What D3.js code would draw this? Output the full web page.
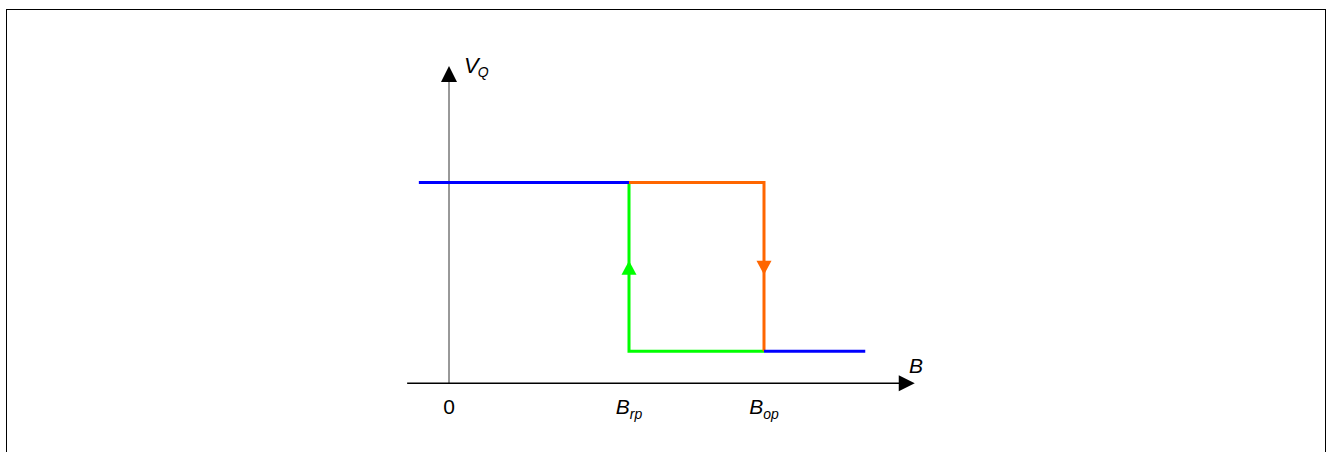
<!DOCTYPE html>
<html>
<head>
<meta charset="utf-8">
<script src="https://cdn.jsdelivr.net/npm/d3@7"></script>
<style>
  body { margin: 0; background: #fff; }
  svg { display: block; }
  text { font-family: "Liberation Sans", Arial, sans-serif; }
</style>
</head>
<body>
<div id="chart"></div>
<script>
// switching thresholds on the B axis
var tickValues = [0, 4, 7];
var tickMain = ["0", "B", "B"];
var tickSub = ["", "rp", "op"];

// output levels
var vLevels = [0.8, 5];

// traces [B, V]
var blueHigh = [[-0.67, 5], [4, 5]];
var blueLow = [[7, 0.8], [9.25, 0.8]];
var orangePath = [[4, 5], [7, 5], [7, 0.8]];
var greenPath = [[7, 0.8], [4, 0.8], [4, 5]];

// axis extents
var xAxisRange = [-0.93, 10.35];
var yAxisTop = 7.9;

var width = 1330, height = 452;

var svg = d3.select('#chart')
            .append('svg')
            .attr('width', width)
            .attr('height', height);

// frame
svg.append('rect')
   .attr('x', 6.5).attr('y', 9.5)
   .attr('width', 1319).attr('height', 460)
   .attr('fill', 'none')
   .attr('stroke', '#000')
   .attr('stroke-width', 1);

var xScale = d3.scaleLinear().domain([0, 7]).range([449, 764]);
var yScale = d3.scaleLinear().domain([0, 5]).range([383.3, 182.5]);

var line = d3.line()
             .x(function(d){ return xScale(d[0]) })
             .y(function(d){ return yScale(d[1]) });

// y axis
var x0 = xScale(0);
var yTip = yScale(yAxisTop);
svg.append('line')
   .attr('x1', x0).attr('x2', x0)
   .attr('y1', yScale(0)).attr('y2', yTip + 14)
   .attr('stroke', '#333').attr('stroke-width', 1);
svg.append('path')
   .attr('d', 'M' + x0 + ',' + yTip + 'L' + (x0 - 8) + ',' + (yTip + 16) + 'L' + (x0 + 8) + ',' + (yTip + 16) + 'Z')
   .attr('fill', '#000');

// x axis
var y0 = yScale(0);
var xTip = xScale(xAxisRange[1]);
svg.append('line')
   .attr('x1', xScale(xAxisRange[0])).attr('x2', xTip - 14)
   .attr('y1', y0).attr('y2', y0)
   .attr('stroke', '#000').attr('stroke-width', 1.4);
svg.append('path')
   .attr('d', 'M' + xTip + ',' + y0 + 'L' + (xTip - 16) + ',' + (y0 - 8) + 'L' + (xTip - 16) + ',' + (y0 + 8) + 'Z')
   .attr('fill', '#000');

// traces
var traces = [
  { d: greenPath, c: '#00ff00' },
  { d: orangePath, c: '#ff6600' },
  { d: blueHigh, c: '#0000ff' },
  { d: blueLow, c: '#0000ff' }
];
svg.append('g')
   .selectAll('path')
   .data(traces)
   .enter()
   .append('path')
   .attr('d', function(t){ return line(t.d) })
   .attr('fill', 'none')
   .attr('stroke', function(t){ return t.c })
   .attr('stroke-width', 3);

// direction arrows at mid height
var midY = yScale(2.85);
var xr = xScale(tickValues[1]), xo = xScale(tickValues[2]);
svg.append('path')
   .attr('d', 'M' + xr + ',' + (midY - 8) + 'L' + (xr - 7.5) + ',' + (midY + 6) + 'L' + (xr + 7.5) + ',' + (midY + 6) + 'Z')
   .attr('fill', '#00ff00');
svg.append('path')
   .attr('d', 'M' + xo + ',' + (midY + 6) + 'L' + (xo - 7.5) + ',' + (midY - 8) + 'L' + (xo + 7.5) + ',' + (midY - 8) + 'Z')
   .attr('fill', '#ff6600');

// tick labels
var labels = svg.append('g')
   .selectAll('text')
   .data(tickValues)
   .enter()
   .append('text')
   .attr('x', function(d){ return xScale(d) })
   .attr('y', 414)
   .attr('text-anchor', 'middle')
   .attr('font-size', 21);
labels.append('tspan')
   .attr('font-style', function(d, i){ return i ? 'italic' : 'normal' })
   .text(function(d, i){ return tickMain[i] });
labels.append('tspan')
   .attr('font-style', 'italic')
   .attr('font-size', 14)
   .attr('dy', 5)
   .text(function(d, i){ return tickSub[i] });

// axis names
svg.append('text')
   .attr('x', 909).attr('y', 373)
   .attr('font-size', 21)
   .attr('font-style', 'italic')
   .text('B');
var vq = svg.append('text')
   .attr('x', 464).attr('y', 73)
   .attr('font-size', 22)
   .attr('font-style', 'italic');
vq.append('tspan').text('V');
vq.append('tspan').attr('font-size', 14).attr('dy', 4).attr('dx', -1).text('Q');
</script>
</body>
</html>
